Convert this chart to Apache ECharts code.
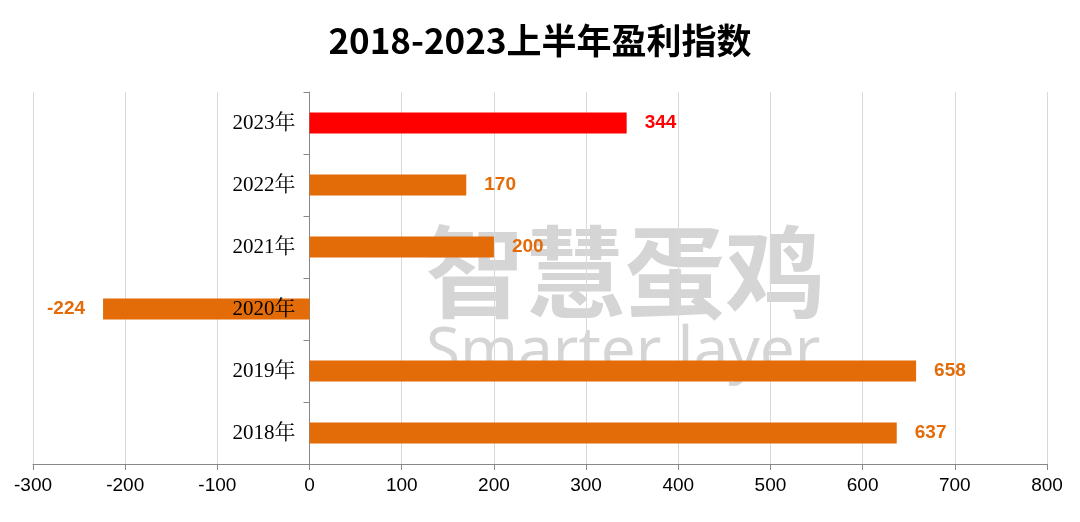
<!DOCTYPE html>
<html><head><meta charset="utf-8">
<script src="https://cdn.jsdelivr.net/npm/echarts@6/dist/echarts.min.js"></script>
<style>html,body{margin:0;background:#fff}#c{width:1080px;height:522px}</style>
</head><body><div id="c"></div>
<script>
const categories = ['2018年','2019年','2020年','2021年','2022年','2023年'];
const values = [637, 658, -224, 200, 170, 344];
const xTicks = [-300,-200,-100,0,100,200,300,400,500,600,700,800];
const orange = '#E36C09', red = '#FF0000';
const chart = echarts.init(document.getElementById('c'));
chart.setOption({
  animation:false,
  title:{text:'2018-2023上半年盈利指数',left:'center',top:18,textStyle:{fontSize:35,fontWeight:'bold',color:'#000',fontFamily:'Noto Sans CJK SC'}},
  graphic:[
    {type:'text',left:425,top:222,z:-1,style:{text:'智慧蛋鸡',font:'bold 100px "Noto Sans CJK SC"',fill:'rgba(150,150,150,0.4)'}},
    {type:'text',left:426,top:322,z:-1,style:{text:'Smarter layer',font:'62px "Noto Sans"',fill:'rgba(150,150,150,0.4)'}}
  ],
  grid:{left:33,right:33,top:92,bottom:58,containLabel:false,outerBoundsMode:'none'},
  xAxis:{type:'value',min:-300,max:800,interval:100,
    axisLine:{show:true,lineStyle:{color:'#888'}},axisTick:{show:true,length:6,lineStyle:{color:'#888'}},
    axisLabel:{fontSize:19,color:'#000',fontFamily:'Liberation Sans',margin:12},
    splitLine:{show:true,lineStyle:{color:'#d9d9d9'}}},
  yAxis:{type:'category',data:categories,
    axisLine:{onZero:true,lineStyle:{color:'#888'}},axisTick:{show:true,length:6,lineStyle:{color:'#888'}},
    axisLabel:{show:false}},
  series:[{type:'bar',barWidth:21,z:2,
    data:values.map((v,i)=>{
      const c = i===5?red:orange;
      return {value:v,itemStyle:{color:c},label:{show:true,position:v<0?'left':'right',distance:18,color:c,fontSize:19,fontWeight:'bold',fontFamily:'Liberation Sans'}};
    })},
   {type:'scatter',symbolSize:0,z:5,itemStyle:{color:'#000'},silent:true,
    data:categories.map(c=>[0,c]),
    label:{show:true,position:'left',distance:14,formatter:p=>p.value[1],fontSize:21,color:'#000',opacity:1,fontFamily:'Liberation Serif, Noto Serif CJK SC, Noto Sans CJK SC'}}]
});
</script></body></html>
